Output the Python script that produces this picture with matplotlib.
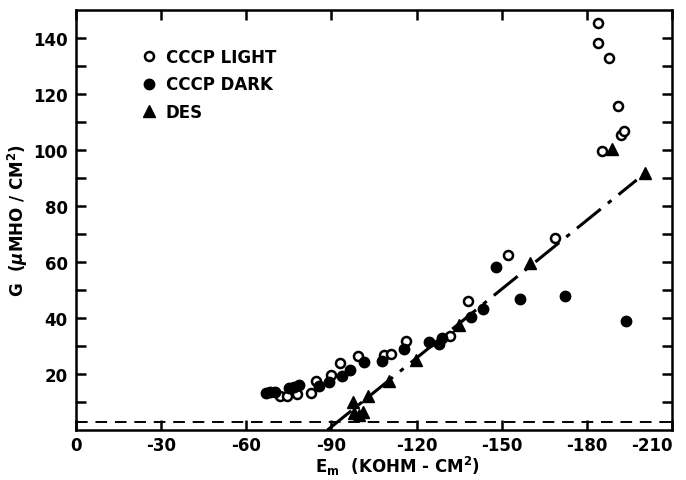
import matplotlib
matplotlib.use("Agg")
import matplotlib.pyplot as plt
import numpy as np

plt.rcParams['font.family'] = ['DejaVu Sans']
plt.rcParams['font.weight'] = 'bold'
plt.rcParams['axes.unicode_minus'] = False

# CCCP light (open circles)
light_x = [-71.7, -74.2, -77.8, -82.8, -84.5, -89.8, -93.0, -99.2, -108.5, -110.9,
           -116.1, -131.6, -138.2, -152.2, -168.8, -184.0, -184.0, -187.8, -191.1,
           -192.0, -193.2, -185.2]
light_y = [12.3, 12.3, 12.9, 13.3, 17.5, 19.8, 23.8, 26.6, 26.8, 27.1,
           31.7, 33.6, 46.2, 62.5, 68.5, 145.3, 138.3, 132.7, 115.7,
           105.4, 106.8, 99.6]

# CCCP dark (filled circles)
dark_x = [-67.0, -68.5, -70.0, -75.2, -76.9, -78.6, -85.5, -89.2, -93.7, -96.4,
          -101.5, -107.7, -115.6, -124.5, -127.9, -129.0, -139.3, -143.3, -148.0,
          -156.3, -172.4, -193.6]
dark_y = [13.2, 13.6, 13.5, 15.0, 15.5, 16.0, 15.7, 17.3, 19.2, 21.4,
          24.4, 24.8, 29.0, 31.3, 30.6, 32.7, 40.2, 43.1, 58.3,
          46.7, 48.0, 39.0]

# DES (triangles)
des_x = [-97.4, -98.0, -99.8, -101.0, -102.7, -110.3, -119.7, -134.9, -160.0, -188.7, -200.4]
des_y = [10.0, 6.0, 5.4, 6.5, 12.1, 17.5, 25.0, 37.5, 59.8, 100.2, 91.7]

# DES fit line end points
fit_x = [-88.6, -197.5]
fit_y = [0.0, 89.3]

baseline = 3.0

xticks = [0, -30, -60, -90, -120, -150, -180, -210]
yticks = [20, 40, 60, 80, 100, 120, 140]

fig = plt.figure(figsize=(6.86, 4.81), dpi=100)
ax = fig.add_axes([0.1108, 0.104, 0.869, 0.873])

ax.axhline(baseline, color='k', lw=1.4, ls=(0, (6, 4)))
ax.plot(fit_x, fit_y, color='k', lw=2.2, ls=(0, (10, 3, 1.5, 3)))

ax.plot(light_x, light_y, 'o', ms=6.5, mfc='white', mec='k', mew=1.8, ls='none',
        label='CCCP LIGHT')
ax.plot(dark_x, dark_y, 'o', ms=7.5, color='k', ls='none', label='CCCP DARK')
ax.plot(des_x, des_y, '^', ms=9, color='k', ls='none', label='DES')

ax.set_xlim(0, -210)
ax.set_ylim(0, 150)
ax.set_xticks(xticks)
ax.set_xticklabels([str(t) for t in xticks])
ax.set_yticks(yticks)
ax.set_yticks(np.arange(10, 150, 10), minor=True)
ax.set_yticklabels([str(t) for t in yticks])
ax.get_xticklabels()[-1].set_horizontalalignment('right')

for sp in ax.spines.values():
    sp.set_linewidth(1.8)
ax.tick_params(axis='both', which='both', direction='in', length=7, width=1.8,
               top=True, right=True, labelsize=12, pad=6)
ax.tick_params(axis='x', pad=4)

ax.set_xlabel(r'$\mathbf{E_m}$  (KOHM - CM$^\mathbf{2}$)', fontsize=12,
              fontweight='bold')
ax.xaxis.set_label_coords(0.54, -0.058)
ax.set_ylabel(r'G  ($\mu$MHO / CM$^\mathbf{2}$)', fontsize=12, fontweight='bold',
              labelpad=2)

ax.legend(loc='upper left', bbox_to_anchor=(0.1, 0.925), frameon=False,
          fontsize=12, handlelength=0.8, handletextpad=0.6, labelspacing=0.55,
          borderaxespad=0)

fig.savefig('out.png', dpi=100)
